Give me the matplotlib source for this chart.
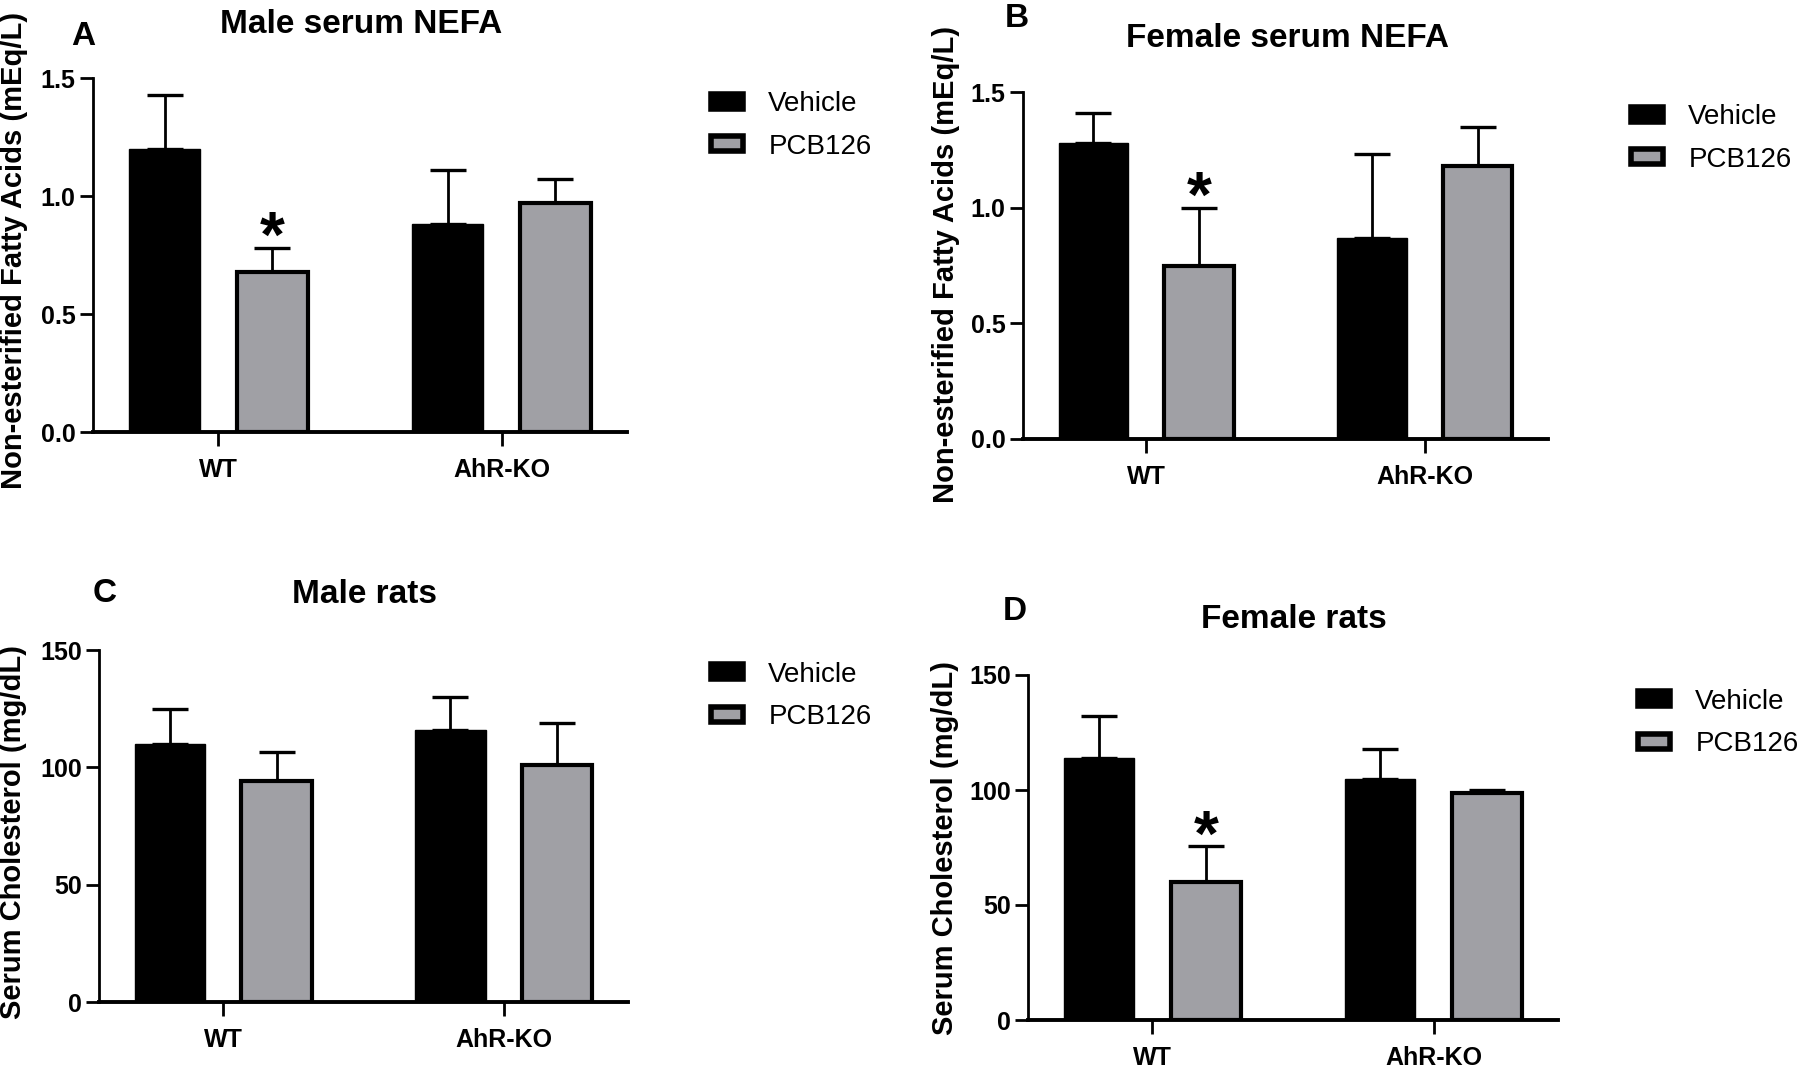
import numpy as np
import matplotlib
matplotlib.use("Agg")
import matplotlib.pyplot as plt
from matplotlib.patches import Patch

plt.rcParams['font.family'] = ['Liberation Sans', 'DejaVu Sans']

# Data
GROUPS = ["WT", "AhR-KO"]
TREATMENTS = ["Vehicle", "PCB126"]

male_nefa_vehicle = [1.20, 0.88]
male_nefa_vehicle_err = [0.23, 0.23]
male_nefa_pcb = [0.68, 0.97]
male_nefa_pcb_err = [0.10, 0.10]

female_nefa_vehicle = [1.28, 0.87]
female_nefa_vehicle_err = [0.13, 0.36]
female_nefa_pcb = [0.75, 1.18]
female_nefa_pcb_err = [0.25, 0.17]

male_chol_vehicle = [110, 116]
male_chol_vehicle_err = [15, 14]
male_chol_pcb = [94, 101]
male_chol_pcb_err = [12.5, 18]

female_chol_vehicle = [114, 105]
female_chol_vehicle_err = [18, 13]
female_chol_pcb = [60, 98.5]
female_chol_pcb_err = [15.5, 1.5]

NEFA_TICKS = [0.0, 0.5, 1.0, 1.5]
CHOL_TICKS = [0, 50, 100, 150]

NEFA_LABEL = "Non-esterified Fatty Acids (mEq/L)"
CHOL_LABEL = "Serum Cholesterol (mg/dL)"

# Style
GRAY = "#a0a0a5"
WIDTH = 0.25
OFFSET = 0.19
FIG_W, FIG_H = 1800, 1070


def fx(px):
    return px / FIG_W


def fy(py):
    return 1 - py / FIG_H


def add_axes_px(fig, left, right, top, bottom):
    return fig.add_axes([fx(left), fy(bottom), (right - left) / FIG_W, (bottom - top) / FIG_H])


def draw_panel(ax, veh, veh_err, pcb, pcb_err, ticks, tick_fmt, stars):
    x = np.arange(len(GROUPS))
    ax.bar(x - OFFSET, veh, WIDTH, color="black", edgecolor="black", linewidth=1, zorder=2)
    ax.bar(x + OFFSET, pcb, WIDTH, color=GRAY, edgecolor="black", linewidth=3, zorder=2)
    zeros = np.zeros(len(GROUPS))
    ax.errorbar(x - OFFSET, veh, yerr=[zeros, veh_err], fmt="none", ecolor="black",
                elinewidth=2, capsize=13, capthick=2.4, zorder=1)
    ax.errorbar(x + OFFSET, pcb, yerr=[zeros, pcb_err], fmt="none", ecolor="black",
                elinewidth=2, capsize=13, capthick=2.4, zorder=1)
    for i in stars:
        ax.annotate("*", xy=(x[i] + OFFSET, pcb[i] + pcb_err[i]), xytext=(0, -16),
                    textcoords="offset points", ha="center", va="bottom",
                    fontsize=46, fontweight="bold")

    ax.set_xlim(-0.4425, 1.4425)
    ax.set_ylim(0, ticks[-1])
    ax.set_yticks(ticks)
    ax.set_yticklabels([tick_fmt.format(t) for t in ticks])
    ax.set_xticks(x)
    ax.set_xticklabels(GROUPS)
    for sp in ["top", "right"]:
        ax.spines[sp].set_visible(False)
    ax.spines["left"].set_linewidth(2)
    ax.spines["bottom"].set_linewidth(2.8)
    ax.tick_params(axis="y", direction="out", length=9.5, width=2, pad=3, labelsize=18)
    ax.tick_params(axis="x", direction="out", length=10, width=2, pad=9, labelsize=18)
    for lab in ax.get_xticklabels() + ax.get_yticklabels():
        lab.set_fontweight("bold")


def add_legend(ax, left, y1, y2):
    handles = [Patch(facecolor="black", edgecolor="black", linewidth=4),
               Patch(facecolor=GRAY, edgecolor="black", linewidth=4)]
    ax.legend(handles, TREATMENTS, loc="center left",
              bbox_to_anchor=(fx(left + 2.8), fy((y1 + y2) / 2)),
              bbox_transform=ax.figure.transFigure, frameon=False,
              fontsize=20, handlelength=1.17, handleheight=0.45,
              handletextpad=0.9, labelspacing=0.6, borderpad=0, borderaxespad=0)


fig = plt.figure(figsize=(18, 10.7), dpi=100)

ax_a = add_axes_px(fig, 93, 627, 78, 432)
draw_panel(ax_a, male_nefa_vehicle, male_nefa_vehicle_err, male_nefa_pcb, male_nefa_pcb_err,
           NEFA_TICKS, "{:.1f}", stars=[0])
add_legend(ax_a, 708, 101, 150)

ax_b = add_axes_px(fig, 1023, 1548, 92, 439)
draw_panel(ax_b, female_nefa_vehicle, female_nefa_vehicle_err, female_nefa_pcb, female_nefa_pcb_err,
           NEFA_TICKS, "{:.1f}", stars=[0])
add_legend(ax_b, 1628, 115, 162)

ax_c = add_axes_px(fig, 99, 628, 650, 1002)
draw_panel(ax_c, male_chol_vehicle, male_chol_vehicle_err, male_chol_pcb, male_chol_pcb_err,
           CHOL_TICKS, "{:d}", stars=[])
add_legend(ax_c, 708, 672, 720)

ax_d = add_axes_px(fig, 1028, 1558, 675, 1020)
draw_panel(ax_d, female_chol_vehicle, female_chol_vehicle_err, female_chol_pcb, female_chol_pcb_err,
           CHOL_TICKS, "{:d}", stars=[0])
add_legend(ax_d, 1635, 699, 747)

# y labels, panel letters and titles
for (x, y, text) in [(14, 250, NEFA_LABEL), (946, 264, NEFA_LABEL),
                     (13, 832, CHOL_LABEL), (945, 848, CHOL_LABEL)]:
    fig.text(fx(x), fy(y), text, rotation=90, ha="center", va="center",
             fontsize=21, fontweight="bold")

for (x, y, text) in [(83, 45, "A"), (1017, 27, "B"), (105, 602, "C"), (1015, 620, "D")]:
    fig.text(fx(x), fy(y), text, ha="center", va="baseline", fontsize=24, fontweight="bold")

for (x, y, text) in [(361, 33, "Male serum NEFA"), (1287, 47, "Female serum NEFA"),
                     (365, 603, "Male rats"), (1294, 628, "Female rats")]:
    fig.text(fx(x), fy(y), text, ha="center", va="baseline", fontsize=24, fontweight="bold")

fig.savefig("out.png", dpi=100)
